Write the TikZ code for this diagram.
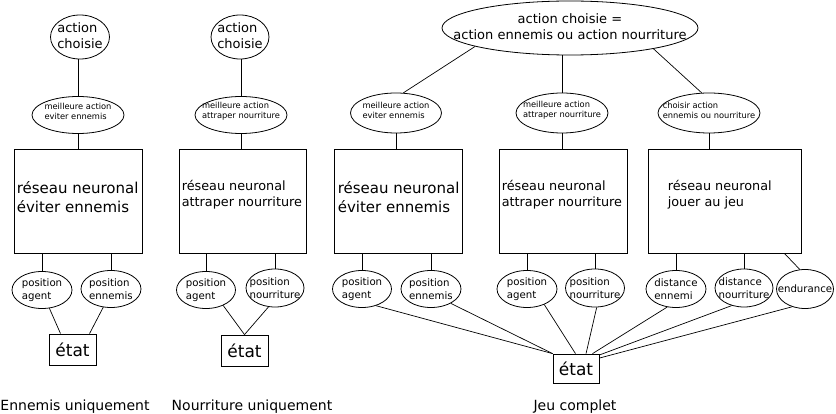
\documentclass[tikz,border=0pt]{standalone}
\usepackage{fontspec}
\setmainfont{DejaVu Sans}
\usetikzlibrary{shapes.geometric}

\begin{document}
\begin{tikzpicture}[x=1pt, y=-1pt,
   oval/.style={draw, ellipse, inner sep=0pt, line width=0.8pt},
   netbox/.style={draw, rectangle, inner sep=0pt, line width=0.8pt},
   link/.style={line width=0.7pt},
   acttxt/.style={font=\fontsize{13}{15.5}\selectfont, align=left, yshift=1.5pt},
   smalltxt/.style={font=\fontsize{8.3}{10}\selectfont, align=left, yshift=3.5pt},
   postxt/.style={font=\fontsize{10.2}{13.5}\selectfont, align=left},
   bigtxt/.style={font=\fontsize{15}{19}\selectfont, align=left, inner sep=0pt},
   midtxt/.style={font=\fontsize{12.8}{15.5}\selectfont, align=left, inner sep=0pt},
   etattxt/.style={font=\fontsize{17}{20}\selectfont},
   captxt/.style={font=\fontsize{14}{16}\selectfont, inner sep=0pt}]
   \useasboundingbox (0,0) rectangle (836,414);
   % Ennemis uniquement
   \node[oval, minimum width=59, minimum height=44, label={[acttxt]center:{action\\choisie}}] (act1) at (80,37) {};
   \node[oval, minimum width=92, minimum height=37, label={[smalltxt]center:{meilleure action\\eviter ennemis}}] (best1) at (78,115) {};
   \node[netbox, minimum width=128, minimum height=104] (net1) at (78,201) {};
   \node[bigtxt, anchor=west] (net1txt) at ([xshift=3pt, yshift=3.5pt]net1.west) {réseau neuronal\\éviter ennemis};
   \node[oval, minimum width=60, minimum height=37, label={[postxt]center:{position\\agent}}] (pos1a) at (42,290) {};
   \node[oval, minimum width=60, minimum height=37, label={[postxt]center:{position\\ennemis}}] (pos1e) at (111,289) {};
   \node[netbox, minimum width=47, minimum height=31, etattxt] (etat1) at (72.5,349.5) {état};
   \node[captxt, anchor=base] (cap1) at (75,410) {Ennemis uniquement};
   \draw[link] (best1.north) -- (best1.north |- act1.south);
   \draw[link] (best1.south) -- (best1.south |- net1.north);
   \draw[link] (pos1a.north) -- (pos1a.north |- net1.south);
   \draw[link] (pos1e.north) -- (pos1e.north |- net1.south);
   \draw[link] (pos1a.-68) -- (etat1.127);
   \draw[link] (pos1e.-113) -- (etat1.43);
   % Nourriture uniquement
   \node[oval, minimum width=58, minimum height=44, label={[acttxt]center:{action\\choisie}}] (act2) at (240,37) {};
   \node[oval, minimum width=92, minimum height=37, label={[smalltxt]center:{meilleure action\\attraper nourriture}}] (best2) at (241,115) {};
   \node[netbox, minimum width=127, minimum height=104] (net2) at (242.5,201) {};
   \node[midtxt, anchor=west] (net2txt) at ([xshift=3pt, yshift=6.5pt]net2.west) {réseau neuronal\\attraper nourriture};
   \node[oval, minimum width=59, minimum height=37, label={[postxt]center:{position\\agent}}] (pos2a) at (206,290) {};
   \node[oval, minimum width=58, minimum height=38, label={[postxt]center:{position\\nourriture}}] (pos2n) at (275,288) {};
   \node[netbox, minimum width=47, minimum height=31, etattxt] (etat2) at (244.5,350.5) {état};
   \node[captxt, anchor=base] (cap2) at (252,410) {Nourriture uniquement};
   \draw[link] (best2.north) -- (best2.north |- act2.south);
   \draw[link] (best2.south) -- (best2.south |- net2.north);
   \draw[link] (pos2a.north) -- (pos2a.north |- net2.south);
   \draw[link] (pos2n.north) -- (pos2n.north |- net2.south);
   \draw[link] (pos2a.-42) -- (etat2.north);
   \draw[link] (pos2n.-109) -- (etat2.north);
   % Jeu complet
   \node[oval, minimum width=256, minimum height=54, label={[acttxt, align=center, font=\fontsize{13}{16}\selectfont]center:{action choisie =\\action ennemis ou action nourriture}}] (top) at (570,28) {};
   \node[oval, minimum width=91, minimum height=40, label={[smalltxt, yshift=-1pt]center:{meilleure action\\eviter ennemis}}] (best3a) at (396,113) {};
   \node[oval, minimum width=92, minimum height=40, label={[smalltxt, yshift=-1pt]center:{meilleure action\\attraper nourriture}}] (best3b) at (562,113) {};
   \node[oval, minimum width=102, minimum height=40, label={[smalltxt, yshift=-1pt]center:{choisir action\\ennemis ou nourriture}}] (choose3) at (709,113) {};
   \node[netbox, minimum width=128, minimum height=104] (net3) at (398,201) {};
   \node[bigtxt, anchor=west] (net3txt) at ([xshift=4pt, yshift=3.5pt]net3.west) {réseau neuronal\\éviter ennemis};
   \node[netbox, minimum width=128, minimum height=104] (net4) at (563,201) {};
   \node[midtxt, anchor=west] (net4txt) at ([xshift=3pt, yshift=6.5pt]net4.west) {réseau neuronal\\attraper nourriture};
   \node[netbox, minimum width=153, minimum height=104] (net5) at (724.5,201) {};
   \node[midtxt, anchor=west] (net5txt) at ([xshift=20pt, yshift=6.5pt]net5.west) {réseau neuronal\\jouer au jeu};
   \node[oval, minimum width=59, minimum height=37, label={[postxt]center:{position\\agent}}] (pos3a) at (362,289) {};
   \node[oval, minimum width=60, minimum height=37, label={[postxt]center:{position\\ennemis}}] (pos3e) at (431,289) {};
   \node[oval, minimum width=60, minimum height=37, label={[postxt]center:{position\\agent}}] (pos4a) at (527,289) {};
   \node[oval, minimum width=59, minimum height=38, label={[postxt]center:{position\\nourriture}}] (pos4n) at (595,288) {};
   \node[oval, minimum width=60, minimum height=37, label={[postxt]center:{distance\\ennemi}}] (dist5e) at (676,289) {};
   \node[oval, minimum width=58, minimum height=38, label={[postxt]center:{distance\\nourriture}}] (dist5n) at (744,288) {};
   \node[oval, minimum width=57, minimum height=39, label={[postxt]center:{endurance}}] (endu5) at (805,289) {};
   \node[netbox, minimum width=46, minimum height=29, etattxt] (etat3) at (576,368.5) {état};
   \node[captxt, anchor=base] (cap3) at (575,410) {Jeu complet};
   \draw[link] (top.191) -- (best3a.70);
   \draw[link] (best3b.north) -- (best3b.north |- top.south);
   \draw[link] (top.-14) -- (choose3.110);
   \draw[link] (best3a.south) -- (best3a.south |- net3.north);
   \draw[link] (best3b.south) -- (best3b.south |- net4.north);
   \draw[link] (choose3.south) -- (choose3.south |- net5.north);
   \draw[link] (pos3a.north) -- (pos3a.north |- net3.south);
   \draw[link] (pos3e.north) -- (pos3e.north |- net3.south);
   \draw[link] (pos4a.north) -- (pos4a.north |- net4.south);
   \draw[link] (pos4n.north) -- (pos4n.north |- net4.south);
   \draw[link] (dist5e.north) -- (dist5e.north |- net5.south);
   \draw[link] (dist5n.north) -- (dist5n.north |- net5.south);
   \draw[link] ([xshift=-17pt]net5.south east) -- (endu5.105);
   \draw[link] (pos3a.-50) -- (etat3.north west);
   \draw[link] (pos3e.-36) -- (etat3.north west);
   \draw[link] (pos4a.-42) -- (etat3.92);
   \draw[link] (pos4n.-85) -- (etat3.56);
   \draw[link] (dist5e.-116) -- (etat3.42);
   \draw[link] (dist5n.-125) -- (etat3.30);
   \draw[link] (endu5.-126) -- (etat3.24);
\end{tikzpicture}
\end{document}
